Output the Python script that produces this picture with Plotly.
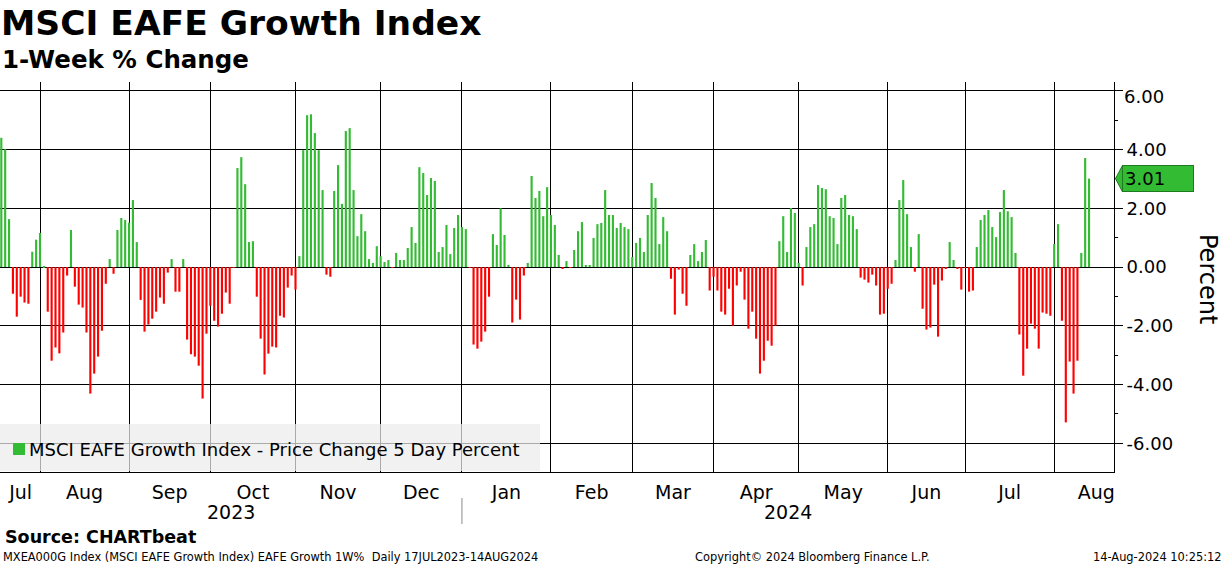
import pandas as pd
import plotly.graph_objects as go

# ---------------- data (1-week % change, one value per weekday) ----------------
jul_2023 = [4.40, 4.01, 1.63, -0.91, -1.69, -1.01, -1.21, -1.25, 0.52, 0.93]
aug_2023 = [1.16, 0.03, -1.52, -3.19, -2.74, -2.94, -2.23, -0.29, 1.26, -0.67, -1.28, -1.38,
            -2.23, -4.31, -3.63, -3.05, -2.17, -0.57, 0.27, -0.23, 1.26, 1.67, 1.60]
sep_2023 = [1.51, 2.28, 0.85, -1.12, -2.20, -1.96, -1.76, -1.52, -1.04, -1.25, -0.19, 0.27,
            -0.84, -0.84, 0.27, -2.47, -2.97, -3.05, -3.36, -4.48, -2.27]
oct_2023 = [-1.32, -1.83, -2.03, -1.59, -0.87, -1.25, -0.02, 3.37, 3.74, 2.82, 0.85, 0.88,
            -1.01, -2.44, -3.66, -2.95, -2.71, -2.74, -1.66, -1.72, -0.70, -0.29]
nov_2023 = [-0.77, 0.37, 3.98, 5.17, 5.20, 4.56, 3.98, 2.62, -0.26, -0.33, 2.59, 3.47,
            2.15, 4.63, 4.73, 2.62, 1.05, 1.80, 1.22, 0.27, 0.14, 0.71]
dec_2023 = [0.37, 0.17, 0.24, -0.03, 0.48, 0.24, 0.24, 0.65, 1.36, 0.82, 3.40, 3.20,
            2.45, 3.03, 2.93, 0.51, 0.68, 1.43, 0.44, 1.33, 1.77]
jan_2024 = [1.36, 1.29, -0.02, -2.64, -2.78, -2.54, -2.20, -1.01, 1.12, 0.75, 2.00, 1.09,
            0.07, -1.89, -1.11, -1.79, -0.29, 0.14, 3.10, 2.35, 2.59, 1.73, 2.72]
feb_2024 = [1.77, 1.43, 0.41, -0.06, 0.20, -0.02, 0.58, 1.22, 1.53, 0.07, 0.07, 0.99,
            1.46, 1.50, 2.62, 1.77, 1.77, 1.33, 1.50, 1.36, 1.29]
mar_2024 = [0.34, 0.82, 0.99, 0.51, 1.77, 2.86, 2.35, 0.78, 1.70, 1.22, -0.40, -1.62,
            -0.09, -0.91, -1.32, 0.41, 0.78, 0.20, 0.51, 0.92, -0.80]
apr_2024 = [-0.33, -0.80, -1.52, -1.62, -0.74, -2.00, -0.63, -0.16, -1.11, -2.10, -1.52, -2.44,
            -3.63, -3.19, -2.51, -2.68, -2.00, 0.88, 1.73, 0.51, 2.01, 1.84]
may_2024 = [0.14, -0.63, 0.68, 1.36, 1.46, 2.79, 2.69, 2.65, 1.73, 1.67, 0.78, 2.35,
            2.45, 1.77, 1.73, 1.29, -0.36, -0.43, -0.53, -0.26, -0.63, -1.62, -1.59]
jun_2024 = [-0.74, -0.57, 0.24, 2.28, 2.96, 1.80, 0.68, -0.16, 1.12, -1.42, -2.13, -2.06,
            -0.60, -2.37, -0.46, -0.06, 0.85, 0.24, -0.06, -0.77]
jul_2024 = [-0.02, -0.84, -0.80, 0.68, 1.60, 1.77, 1.94, 1.36, 1.02, 1.87, 2.62, 1.90,
            1.70, 0.48, -2.30, -3.70, -2.78, -1.93, -2.10, -2.78, -1.55, -1.59, -1.66]
aug_2024 = [0.78, 1.46, -1.83, -5.29, -3.22, -4.31, -3.19, 0.48, 3.71, 3.01]

y_tick_values = [6, 4, 2, 0, -2, -4, -6]
y_tick_labels = ["6.00", "4.00", "2.00", "0.00", "-2.00", "-4.00", "-6.00"]
y_minor_values = [5, 3, 1, -1, -3, -5]

series_name = "MSCI EAFE Growth Index - Price Change 5 Day Percent"
last_label = "3.01"

values = (jul_2023 + aug_2023 + sep_2023 + oct_2023 + nov_2023 + dec_2023 + jan_2024 +
          feb_2024 + mar_2024 + apr_2024 + may_2024 + jun_2024 + jul_2024 + aug_2024)
dates = pd.bdate_range("2023-07-18", "2024-08-14")
assert len(dates) == len(values)
x = list(range(len(dates)))

GREEN = "#33BB33"
RED = "#FF0000"
colors = [GREEN if v >= 0 else RED for v in values]

# ---------------- axis geometry ----------------
X_MIN, X_MAX = -0.336, 287.45
Y_MIN, Y_MAX = -6.98, 6.30

month_keys = [(d.year, d.month) for d in dates]
month_starts, month_names = [], []
for i, k in enumerate(month_keys):
    if i == 0 or k != month_keys[i - 1]:
        month_starts.append(i)
        month_names.append(dates[i].strftime("%b"))
month_mid = []
for j, s in enumerate(month_starts):
    if j == 0:
        month_mid.append((s + month_starts[1]) / 2)
    elif j == len(month_starts) - 1:
        month_mid.append(X_MAX - 4.6)
    else:
        month_mid.append((s + month_starts[j + 1]) / 2)
grid_starts = month_starts[1:]

jan_idx = next(i for i, d in enumerate(dates) if d.year == 2024)
year_pos = [(X_MIN + jan_idx) / 2, (jan_idx + X_MAX) / 2]
year_text = ["2023", "2024"]

# plot area in pixels: top 82, bottom 472, left 0, right 1114
PT, PB, PR = 82, 472, 1114
PH = PB - PT


def py(pix):
    return (PB - pix) / PH


def px(pix):
    return pix / PR


# the top tick label sits a little below its gridline (as in the source chart)
axis_ticktext = [""] + y_tick_labels[1:]

fig = go.Figure()
fig.add_trace(go.Bar(
    x=x, y=values, width=0.55, name=series_name,
    marker=dict(color=colors, line=dict(width=0)),
    showlegend=False, hoverinfo="y",
))
fig.add_trace(go.Scatter(x=[], y=[], xaxis="x2", showlegend=False, hoverinfo="skip"))

annotations = [
    dict(text="<b>MSCI EAFE Growth Index</b>", xref="paper", yref="paper", x=px(-1), y=py(23),
         xanchor="left", yanchor="middle", showarrow=False, font=dict(size=34.5)),
    dict(text="<b>1-Week % Change</b>", xref="paper", yref="paper", x=px(0), y=py(60),
         xanchor="left", yanchor="middle", showarrow=False, font=dict(size=24.5)),
    dict(text="Percent", xref="paper", yref="paper", x=px(1208), y=py(279), textangle=90,
         xanchor="center", yanchor="middle", showarrow=False, font=dict(size=24)),
    dict(text="<b>Source: CHARTbeat</b>", xref="paper", yref="paper", x=px(3), y=py(537),
         xanchor="left", yanchor="middle", showarrow=False, font=dict(size=17.5)),
    dict(text="MXEA000G Index (MSCI EAFE Growth Index) EAFE Growth 1W%  Daily 17JUL2023-14AUG2024",
         xref="paper", yref="paper", x=px(1), y=py(557), xanchor="left", yanchor="middle",
         showarrow=False, font=dict(size=11.4)),
    dict(text="Copyright\u00a9 2024 Bloomberg Finance L.P.", xref="paper", yref="paper",
         x=px(812), y=py(557), xanchor="center", yanchor="middle", showarrow=False,
         font=dict(size=11.4)),
    dict(text="14-Aug-2024 10:25:12", xref="paper", yref="paper", x=px(1223), y=py(557),
         xanchor="right", yanchor="middle", showarrow=False, font=dict(size=11.4)),
    dict(text=last_label, xref="paper", yref="y", x=1.0, xshift=8, y=values[-1],
         xanchor="left", yanchor="middle", showarrow=False, font=dict(size=18),
         bgcolor=GREEN, bordercolor="#1E7A1E", borderwidth=1, borderpad=2,
         width=66, align="left"),
    dict(text=y_tick_labels[0], xref="paper", yref="y", x=1.0, xshift=8, y=y_tick_values[0],
         yshift=-6, xanchor="left", yanchor="middle", showarrow=False, font=dict(size=18)),
    # legend entry text
    dict(text=series_name, xref="paper", yref="paper", x=px(27), y=py(449),
         xanchor="left", yanchor="middle", showarrow=False, font=dict(size=18)),
]
for pos, t in zip(year_pos, year_text):
    annotations.append(dict(text=t, xref="x", yref="paper", x=pos, y=py(512),
                            xanchor="center", yanchor="middle", showarrow=False,
                            font=dict(size=19)))

shapes = [
    # legend box
    dict(type="rect", xref="paper", yref="paper", x0=0, x1=px(540), y0=py(471), y1=py(424),
         fillcolor="rgba(236,236,236,0.72)", line=dict(width=0), layer="above"),
    # legend symbol
    dict(type="rect", xref="paper", yref="paper", x0=px(13), x1=px(25), y0=py(455), y1=py(443),
         fillcolor=GREEN, line=dict(width=0), layer="above"),
    dict(type="line", xref="x", yref="paper", x0=jan_idx, x1=jan_idx, y0=py(498), y1=py(524),
         line=dict(color="#8c8c8c", width=1)),
    dict(type="path", xref="paper", yref="y",
         path=f"M {px(1115.5)},{values[-1]} L {px(1122.5)},{values[-1] + 0.45} "
              f"L {px(1122.5)},{values[-1] - 0.45} Z",
         fillcolor=GREEN, line=dict(color="#1E7A1E", width=1), layer="above"),
]

fig.update_layout(
    width=1224, height=566,
    margin=dict(l=0, r=1224 - PR, t=PT, b=566 - PB, pad=0, autoexpand=False),
    paper_bgcolor="white", plot_bgcolor="white",
    font=dict(family="DejaVu Sans", color="black"),
    xaxis=dict(range=[X_MIN, X_MAX], tickmode="array", tickvals=month_mid, ticktext=month_names,
               showgrid=False, zeroline=False, showline=True, linecolor="black", linewidth=1,
               ticks="", tickfont=dict(size=19), ticklabelstandoff=3, fixedrange=True),
    xaxis2=dict(range=[X_MIN, X_MAX], overlaying="x", side="bottom", tickmode="array",
                tickvals=grid_starts, showgrid=True, gridcolor="black", gridwidth=1,
                showticklabels=False, ticks="", showline=False, zeroline=False),
    yaxis=dict(side="right", range=[Y_MIN, Y_MAX], tickmode="array", tickvals=y_tick_values,
               ticktext=axis_ticktext, showgrid=True, gridcolor="black", gridwidth=1,
               zeroline=True, zerolinecolor="black", zerolinewidth=1,
               showline=True, linecolor="black", linewidth=1,
               ticks="outside", ticklen=8, tickcolor="black", tickfont=dict(size=18),
               minor=dict(tickmode="array", tickvals=y_minor_values, ticks="outside",
                          ticklen=3, tickcolor="black", showgrid=False)),
    annotations=annotations,
    shapes=shapes,
    showlegend=False,
)

fig.write_html("out.html", config={"displayModeBar": False},
               post_script="document.body.style.margin='0px';")
